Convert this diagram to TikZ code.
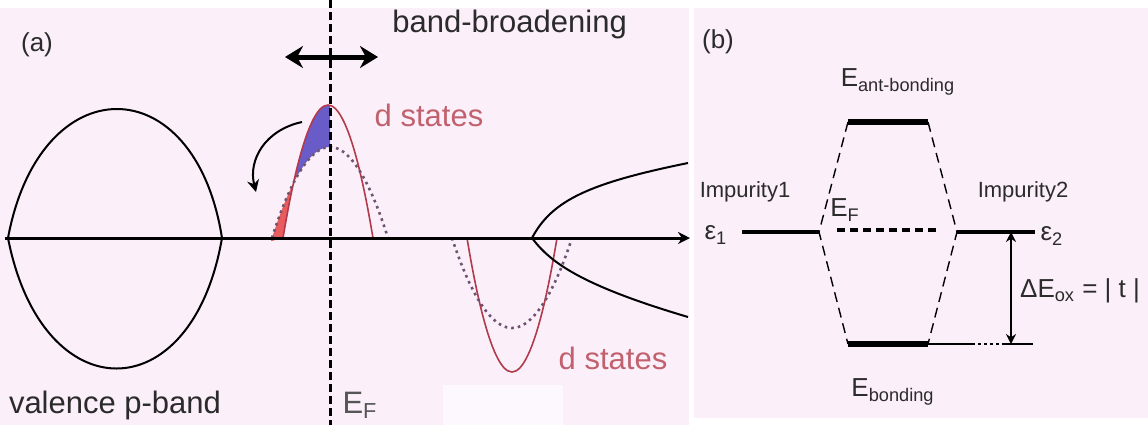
\documentclass[tikz,border=0pt]{standalone}
\usepackage{fontspec}
\setmainfont{Liberation Sans}
\usetikzlibrary{arrows.meta}
\definecolor{panel}{HTML}{FBEFFA}
\definecolor{dred}{HTML}{B23A4A}
\definecolor{dfill}{HTML}{E85C5E}
\definecolor{dblue}{HTML}{6A5CC8}
\definecolor{ink}{HTML}{2B2B2B}
\definecolor{dotc}{HTML}{6E5470}
\tikzset{lbl/.style={font=\fontsize{15.5}{18}\selectfont,text=ink,inner sep=0pt},dlbl/.style={lbl,text=dred!80!white},sml/.style={font=\fontsize{11}{13}\selectfont,text=ink,inner sep=0pt},mid/.style={font=\fontsize{13}{15}\selectfont,text=ink,inner sep=0pt},band/.style={line width=1pt},dcurve/.style={dred,line width=0.8pt},ddot/.style={dotc,line width=1.3pt,dotted}}
\begin{document}
\begin{tikzpicture}[x=0.5pt,y=-0.5pt,level/.style={line width=3pt},lvl/.style={line width=2pt},link/.style={line width=0.7pt,dash pattern=on 5pt off 3pt}]
\useasboundingbox (0,0) rectangle (1148,425);
\fill[white] (0,0) rectangle (1148,425);
\fill[panel] (0,8) rectangle (689,425);\fill[panel] (694,8) rectangle (1148,418);
\fill[white!55!panel] (443,385) rectangle (563,425);
\fill[dfill] plot[domain=271:297,samples=20] (\x,{238-91*(1-((\x-330)/58)^2)}) -- plot[domain=297:283,samples=20] (\x,{238-133*(1-((\x-328)/45)^2)}) -- cycle;
\fill[dblue] plot[domain=297:330,samples=20] (\x,{238-133*(1-((\x-328)/45)^2)}) -- plot[domain=330:297,samples=20] (\x,{238-91*(1-((\x-330)/58)^2)}) -- cycle;
\draw[dcurve] (283,238) parabola bend (328,105) (373,238);
\draw[ddot] (272,238) parabola bend (330,147) (388,238);
\draw[dcurve] (467,238) parabola bend (512,372) (557,238);
\draw[ddot] (452,238) parabola bend (512,328) (572,238);
\draw[band] (8,238) .. controls (40,66) and (195,66) .. (222,238) .. controls (192,412) and (42,412) .. (8,238);
\draw[band] (688,163) .. controls (590,183) and (552,200) .. (532,238) .. controls (550,262) and (580,285) .. (688,317);
\coordinate (ax0) at (5,238);\coordinate (ax1) at (690,238);
\coordinate (ef0) at (330,0);\coordinate (ef1) at (330,425);
\coordinate (bw0) at (285,57);\coordinate (bw1) at (378,57);
\coordinate (tr0) at (302,122);\coordinate (tr1) at (256,192);
\draw[line width=1.5pt,-{Stealth[length=6pt,width=6pt]}] (ax0) -- (ax1);
\draw[line width=1.5pt,dash pattern=on 4pt off 2pt] (ef0) -- (ef1);
\draw[line width=2.5pt,{Stealth[length=9pt,width=11pt]}-{Stealth[length=9pt,width=11pt]}] (bw0) -- (bw1);
\draw[line width=1pt,-{Stealth[length=6pt,width=6pt]}] (tr0) .. controls (265,130) and (248,160) .. (tr1);
\node[mid] (pa) at (37,45) {(a)};
\node[lbl,anchor=west] (broad) at (392,24) {band-broadening};
\node[dlbl] (dup) at (429,115) {d states};
\node[dlbl] (ddown) at (613,358) {d states};
\node[lbl] (vband) at (115,405) {valence p-band};
\node[lbl,text=ink!80] (efa) at (360,405) {E\textsubscript{F}};
\node[mid] (pb) at (718,42) {(b)};
\node[mid] (eab) at (898,82) {E\textsubscript{ant-bonding}};
\node[sml] (imp1) at (745,192) {Impurity1};
\node[sml] (imp2) at (1023,192) {Impurity2};
\node[mid] (eps1) at (716,235) {ε\textsubscript{1}};
\node[mid] (eps2) at (1052,236) {ε\textsubscript{2}};
\node[mid] (efb) at (845,210) {E\textsubscript{F}};
\node[mid] (dE) at (1080,291) {ΔE\textsubscript{ox} = | t |};
\node[mid] (ebond) at (893,392) {E\textsubscript{bonding}};
\coordinate (ab1) at (848,122);\coordinate (ab2) at (928,122);
\coordinate (l1a) at (742,232);\coordinate (l1b) at (819,232);
\coordinate (l2a) at (957,232);\coordinate (l2b) at (1035,232);
\coordinate (f1) at (837,230);\coordinate (f2) at (940,230);
\coordinate (b1) at (848,344);\coordinate (b2) at (928,344);\coordinate (bend) at (1033,344);
\coordinate (vt) at (1011,232);\coordinate (vb) at (1011,344);
\draw[level] (ab1) -- (ab2);\draw[level] (b1) -- (b2);
\draw[lvl] (l1a) -- (l1b);\draw[lvl] (l2a) -- (l2b);
\draw[lvl,dash pattern=on 4pt off 2.5pt] (f1) -- (f2);
\draw[link] (ab1) -- (l1b) -- (b1);\draw[link] (ab2) -- (l2a) -- (b2);
\draw[line width=0.6pt,dash pattern=on 23.5pt off 1.5pt on 1.5pt off 1.5pt on 1.5pt off 1.5pt on 1.5pt off 1.5pt on 1.5pt off 1.5pt on 20pt] (b2) -- (bend);
\draw[line width=0.6pt,{Stealth[length=5pt,width=5pt]}-{Stealth[length=5pt,width=5pt]}] (vt) -- (vb);
\end{tikzpicture}
\end{document}
